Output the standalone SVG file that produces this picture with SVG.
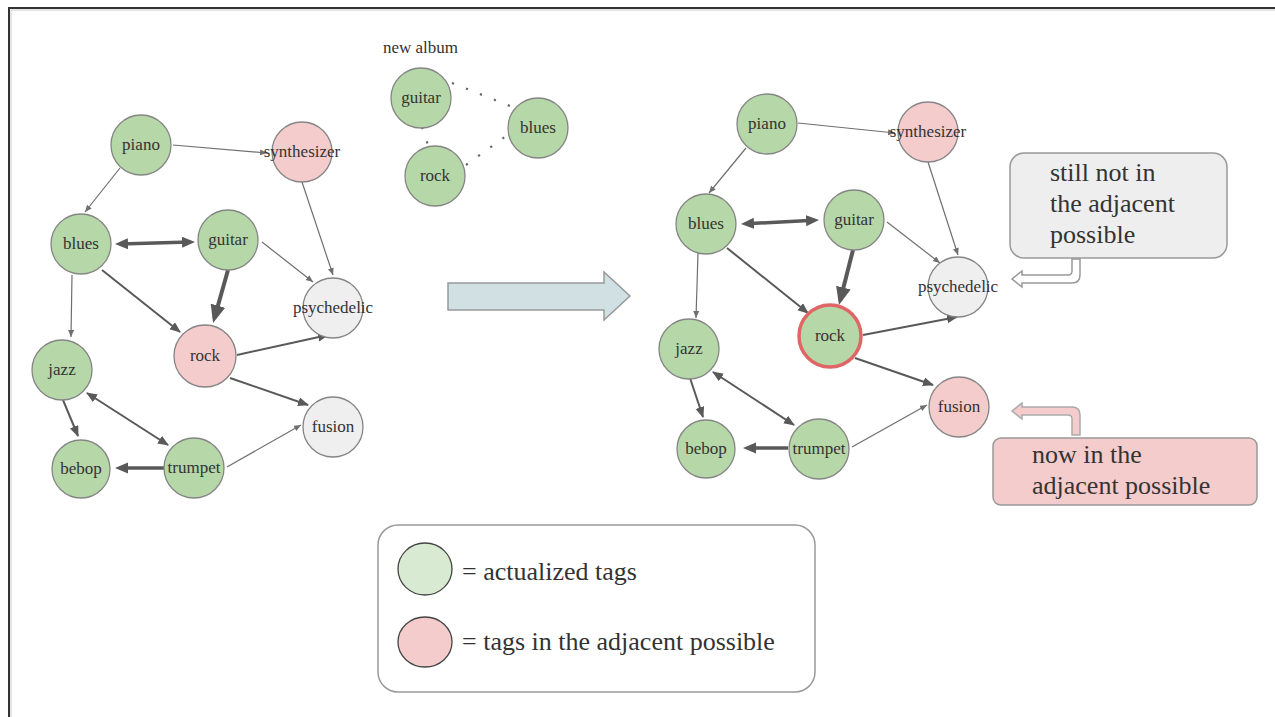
<svg xmlns="http://www.w3.org/2000/svg" width="1275" height="717" viewBox="0 0 1275 717">
<style>
.n{stroke:#858585;stroke-width:1.3}
.g{fill:#b6d7a8}
.p{fill:#f4cccc}
.w{fill:#efefef}
.lbl{font-family:"Liberation Serif",serif;font-size:17px;fill:#333;text-anchor:middle}
.big{font-family:"Liberation Serif",serif;font-size:26px;fill:#333}
.t{stroke:#6f6f6f;stroke-width:1.2;fill:none;marker-end:url(#aS)}
.m{stroke:#595959;stroke-width:2;fill:none;marker-end:url(#aM)}
.m2{stroke:#595959;stroke-width:2;fill:none;marker-end:url(#aM);marker-start:url(#aM)}
.k{stroke:#595959;stroke-width:3.5;fill:none;marker-end:url(#aL)}
.k2{stroke:#595959;stroke-width:3.5;fill:none;marker-end:url(#aL);marker-start:url(#aL)}
.x{stroke:#595959;stroke-width:4;fill:none;marker-end:url(#aXL)}
.dot{stroke:#666;stroke-width:2.2;fill:none;stroke-dasharray:2.2 12.8}
</style>
<defs>
<marker id="aS" markerUnits="userSpaceOnUse" markerWidth="8" markerHeight="7" refX="7" refY="3" orient="auto-start-reverse"><path d="M0,0 L7,3 L0,6 z" fill="#6f6f6f"/></marker>
<marker id="aM" markerUnits="userSpaceOnUse" markerWidth="12" markerHeight="10" refX="10" refY="4.5" orient="auto-start-reverse"><path d="M0,0 L11,4.5 L0,9 z" fill="#595959"/></marker>
<marker id="aL" markerUnits="userSpaceOnUse" markerWidth="15" markerHeight="12" refX="8" refY="5.5" orient="auto-start-reverse"><path d="M0,0 L13,5.5 L0,11 z" fill="#595959"/></marker>
<marker id="aXL" markerUnits="userSpaceOnUse" markerWidth="19" markerHeight="16" refX="13" refY="7.5" orient="auto-start-reverse"><path d="M0,0 L18,7.5 L0,15 z" fill="#595959"/></marker>
</defs>
<rect width="1275" height="717" fill="#fff"/>
<path d="M9,717 L9,8 L1275,8" fill="none" stroke="#333" stroke-width="2"/>
<path d="M11,717 L11,10 L1275,10" fill="none" stroke="#ccc" stroke-width="1"/>

<g id="connectors">
<!-- left graph -->
<path class="t" d="M173,145 L267,153"/>
<path class="t" d="M120,168 L85,212"/>
<path class="k2" d="M120,243.9 L190,242.1"/>
<path class="t" d="M302,182 L333,275"/>
<path class="t" d="M262,242 L313,282"/>
<path class="t" d="M72,275 L71,337"/>
<path class="m" d="M102,270 L180,332"/>
<path class="x" d="M228,270 L214.4,318.2"/>
<path class="m" d="M237,355 L328,335"/>
<path class="m" d="M230,378 L308,405"/>
<path class="m" d="M63,400 L78,436"/>
<path class="m2" d="M87,393 L168,445"/>
<path class="k" d="M165,468 L120,468"/>
<path class="t" d="M227,467 L301,425"/>
<!-- new album -->
<path class="dot" d="M452,83 L510,106"/>
<path class="dot" d="M422,127 L428,145"/>
<path class="dot" d="M466,165 L506,136"/>
<!-- right graph -->
<path class="t" d="M798,123 L895,133"/>
<path class="t" d="M746,148 L709,193"/>
<path class="k2" d="M746,223.7 L814,220.3"/>
<path class="t" d="M928,162 L958,255"/>
<path class="t" d="M887,222 L940,263"/>
<path class="t" d="M698,253 L696,318"/>
<path class="m" d="M727,248 L808,313"/>
<path class="x" d="M853,250 L840.2,300.2"/>
<path class="m" d="M863,335 L957,317"/>
<path class="m" d="M855,358 L933,385"/>
<path class="m" d="M690,378 L703,417"/>
<path class="m2" d="M713,372 L794,425"/>
<path class="k" d="M788,448 L748,448"/>
<path class="t" d="M852,447 L927,405"/>
</g>

<!-- left graph nodes -->
<g id="L-piano"><circle class="n g" cx="141" cy="145" r="30"/><text class="lbl" x="141" y="150">piano</text></g>
<g id="L-synthesizer"><circle class="n p" cx="302" cy="152" r="30"/><text class="lbl" x="302" y="157">synthesizer</text></g>
<g id="L-blues"><circle class="n g" cx="81" cy="244" r="30"/><text class="lbl" x="81" y="249">blues</text></g>
<g id="L-guitar"><circle class="n g" cx="228" cy="240" r="30"/><text class="lbl" x="228" y="245">guitar</text></g>
<g id="L-psychedelic"><circle class="n w" cx="333" cy="308" r="30"/><text class="lbl" x="333" y="313">psychedelic</text></g>
<g id="L-rock"><circle class="n p" cx="205" cy="356" r="31"/><text class="lbl" x="205" y="361">rock</text></g>
<g id="L-jazz"><circle class="n g" cx="62" cy="370" r="30"/><text class="lbl" x="62" y="375">jazz</text></g>
<g id="L-fusion"><circle class="n w" cx="333" cy="427" r="30"/><text class="lbl" x="333" y="432">fusion</text></g>
<g id="L-bebop"><circle class="n g" cx="81" cy="469" r="29"/><text class="lbl" x="81" y="474">bebop</text></g>
<g id="L-trumpet"><circle class="n g" cx="194" cy="468" r="30"/><text class="lbl" x="194" y="473">trumpet</text></g>

<!-- new album -->
<g id="new-album">
<text x="383" y="53" style="font-family:'Liberation Serif',serif;font-size:17px;fill:#333">new album</text>
<g id="A-guitar"><circle class="n g" cx="421" cy="98" r="30"/><text class="lbl" x="421" y="103">guitar</text></g>
<g id="A-rock"><circle class="n g" cx="435" cy="176" r="30"/><text class="lbl" x="435" y="181">rock</text></g>
<g id="A-blues"><circle class="n g" cx="538" cy="128" r="30"/><text class="lbl" x="538" y="133">blues</text></g>
</g>

<!-- big arrow -->
<g id="transition-arrow"><path d="M448,283 L604,283 L604,272 L630,296 L604,320 L604,310 L448,310 Z" fill="#d0e0e3" stroke="#999" stroke-width="1.5"/></g>

<!-- right graph nodes -->
<g id="R-piano"><circle class="n g" cx="767" cy="124" r="30"/><text class="lbl" x="767" y="129">piano</text></g>
<g id="R-synthesizer"><circle class="n p" cx="928" cy="132" r="30"/><text class="lbl" x="928" y="137">synthesizer</text></g>
<g id="R-blues"><circle class="n g" cx="706" cy="224" r="30"/><text class="lbl" x="706" y="229">blues</text></g>
<g id="R-guitar"><circle class="n g" cx="854" cy="220" r="30"/><text class="lbl" x="854" y="225">guitar</text></g>
<g id="R-psychedelic"><circle class="n w" cx="958" cy="287" r="30"/><text class="lbl" x="958" y="292">psychedelic</text></g>
<g id="R-rock"><circle cx="830" cy="336" r="31" fill="#b6d7a8" stroke="#e06666" stroke-width="3.5"/><text class="lbl" x="830" y="341">rock</text></g>
<g id="R-jazz"><circle class="n g" cx="689" cy="349" r="30"/><text class="lbl" x="689" y="354">jazz</text></g>
<g id="R-fusion"><circle class="n p" cx="959" cy="407" r="30"/><text class="lbl" x="959" y="412">fusion</text></g>
<g id="R-bebop"><circle class="n g" cx="706" cy="449" r="29"/><text class="lbl" x="706" y="454">bebop</text></g>
<g id="R-trumpet"><circle class="n g" cx="819" cy="449" r="30"/><text class="lbl" x="819" y="454">trumpet</text></g>

<!-- callouts -->
<g id="callout-still-not">
<rect x="1010" y="153" width="217" height="105" rx="14" fill="#eeeeee" stroke="#999" stroke-width="1.5"/>
<text class="big" x="1050" y="181">still not in</text>
<text class="big" x="1050" y="212">the adjacent</text>
<text class="big" x="1050" y="243">possible</text>
<path d="M1080,259 L1080,275 Q1080,283 1072,283 L1022,283 L1022,287 L1012,279 L1022,271 L1022,275 L1068,275 Q1072,275 1072,271 L1072,259 Z" fill="#fff" stroke="#999" stroke-width="1.5"/>
</g>
<g id="callout-now-in">
<rect x="993" y="438" width="264" height="67" rx="8" fill="#f4cccc" stroke="#999" stroke-width="1.5"/>
<text class="big" x="1032" y="463">now in the</text>
<text class="big" x="1032" y="494">adjacent possible</text>
<path d="M1080,435 L1080,415 Q1080,407 1072,407 L1022,407 L1022,403 L1012,411 L1022,419 L1022,415 L1068,415 Q1072,415 1072,419 L1072,435 Z" fill="#f4cccc" stroke="#aaa" stroke-width="1.5"/>
</g>

<!-- legend -->
<g id="legend">
<rect x="378" y="525" width="437" height="167" rx="20" fill="#fff" stroke="#999" stroke-width="1.5"/>
<ellipse cx="425" cy="569" rx="27" ry="26" fill="#d9ead3" stroke="#444" stroke-width="1.3"/>
<text class="big" x="462" y="580">= actualized tags</text>
<ellipse cx="425" cy="642" rx="27" ry="25" fill="#f4cccc" stroke="#444" stroke-width="1.3"/>
<text class="big" x="462" y="650">= tags in the adjacent possible</text>
</g>
</svg>
